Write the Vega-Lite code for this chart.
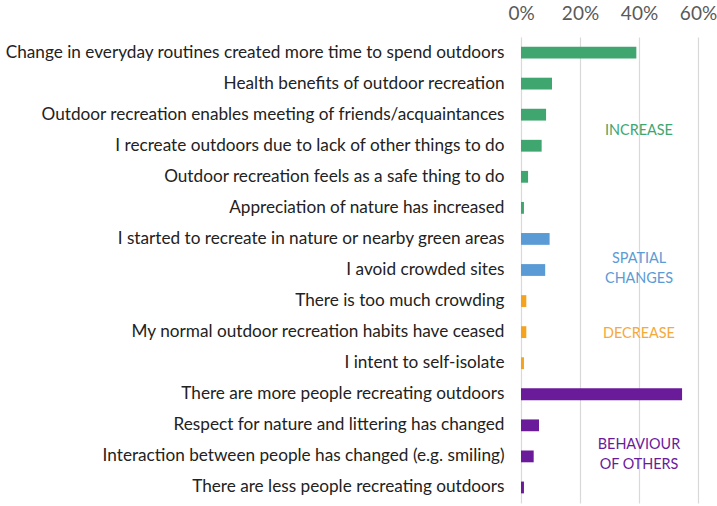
{
  "$schema": "https://vega.github.io/schema/vega-lite/v6.json",
  "width": 177,
  "height": 466,
  "autosize": {"type": "none"},
  "padding": {"left": 521, "top": 37, "right": 19, "bottom": 3},
  "background": "white",
  "config": {"view": {"stroke": null}, "font": "Lato"},
  "datasets": {
    "bars": [
      {"item": "Change in everyday routines created more time to spend  outdoors", "group": "Increase", "pct": 39.1},
      {"item": "Health benefits of outdoor recreation", "group": "Increase", "pct": 10.5},
      {"item": "Outdoor recreation enables meeting of friends/acquaintances", "group": "Increase", "pct": 8.5},
      {"item": "I recreate outdoors due to lack of other things to do", "group": "Increase", "pct": 7.0},
      {"item": "Outdoor recreation feels as a safe thing to do", "group": "Increase", "pct": 2.4},
      {"item": "Appreciation of nature has increased", "group": "Increase", "pct": 1.0},
      {"item": "I started to recreate in nature or nearby green areas", "group": "Spatial", "pct": 9.7},
      {"item": "I avoid crowded sites", "group": "Spatial", "pct": 8.2},
      {"item": "There is too much crowding", "group": "Decrease", "pct": 1.8},
      {"item": "My normal outdoor recreation habits have ceased", "group": "Decrease", "pct": 1.8},
      {"item": "I intent to self-isolate", "group": "Decrease", "pct": 1.0},
      {"item": "There are more people recreating outdoors", "group": "Others", "pct": 54.6},
      {"item": "Respect for nature and littering has changed", "group": "Others", "pct": 6.1},
      {"item": "Interaction between people has changed (e.g. smiling)", "group": "Others", "pct": 4.3},
      {"item": "There are less people recreating outdoors", "group": "Others", "pct": 1.0}
    ]
  },
  "layer": [
    {
      "data": {"name": "bars"},
      "mark": {"type": "bar"},
      "encoding": {
        "y": {
          "field": "item", "type": "nominal", "sort": null,
          "scale": {
            "domain": [
              "Change in everyday routines created more time to spend  outdoors",
              "Health benefits of outdoor recreation",
              "Outdoor recreation enables meeting of friends/acquaintances",
              "I recreate outdoors due to lack of other things to do",
              "Outdoor recreation feels as a safe thing to do",
              "Appreciation of nature has increased",
              "I started to recreate in nature or nearby green areas",
              "I avoid crowded sites",
              "There is too much crowding",
              "My normal outdoor recreation habits have ceased",
              "I intent to self-isolate",
              "There are more people recreating outdoors",
              "Respect for nature and littering has changed",
              "Interaction between people has changed (e.g. smiling)",
              "There are less people recreating outdoors"
            ],
            "paddingInner": 0.62, "paddingOuter": 0.31
          },
          "axis": {"title": null, "domain": false, "ticks": false, "labelPadding": 17, "labelFontSize": 17.2, "labelColor": "#222222", "labelLimit": 0}
        },
        "x": {
          "field": "pct", "type": "quantitative",
          "scale": {"domain": [0, 60], "nice": false},
          "axis": {"orient": "top", "title": null, "values": [0, 20, 40, 60], "labelExpr": "datum.value + '%'", "domain": false, "ticks": false, "labelFontSize": 19, "labelColor": "#595959", "labelPadding": 14, "gridColor": "#d9d9d9", "gridWidth": 1.2, "labelFlush": false}
        },
        "color": {
          "field": "group", "type": "nominal", "legend": null,
          "scale": {"domain": ["Increase", "Spatial", "Decrease", "Others"], "range": ["#3fa66f", "#5b9bd5", "#f5a21c", "#6a1b9a"]}
        }
      }
    },
    {
      "data": {"values": [{"label": "INCREASE", "anchor": "I recreate outdoors due to lack of other things to do", "x": 40}]},
      "mark": {"type": "text", "dy": -14.5, "fontSize": 14.4, "color": "#3fa66f", "align": "center", "baseline": "middle"},
      "encoding": {"y": {"field": "anchor", "type": "nominal"}, "x": {"field": "x", "type": "quantitative"}, "text": {"field": "label"}}
    },
    {
      "data": {"values": [
        {"label": ["SPATIAL", "CHANGES"], "anchor": "I avoid crowded sites", "x": 40, "grp": "Spatial"},
        {"label": ["BEHAVIOUR", "OF OTHERS"], "anchor": "Interaction between people has changed (e.g. smiling)", "x": 40, "grp": "Others"}
      ]},
      "mark": {"type": "text", "dy": -11, "fontSize": 14.4, "lineHeight": 20, "align": "center", "baseline": "middle"},
      "encoding": {
        "y": {"field": "anchor", "type": "nominal"},
        "x": {"field": "x", "type": "quantitative"},
        "text": {"field": "label"},
        "color": {"field": "grp", "type": "nominal", "legend": null, "scale": {"domain": ["Increase", "Spatial", "Decrease", "Others"], "range": ["#3fa66f", "#5b9bd5", "#f5a21c", "#7b2fa8"]}}
      }
    },
    {
      "data": {"values": [{"label": "DECREASE", "anchor": "My normal outdoor recreation habits have ceased", "x": 40}]},
      "mark": {"type": "text", "dy": 2, "fontSize": 14.4, "color": "#f5a93a", "align": "center", "baseline": "middle"},
      "encoding": {"y": {"field": "anchor", "type": "nominal"}, "x": {"field": "x", "type": "quantitative"}, "text": {"field": "label"}}
    }
  ]
}
